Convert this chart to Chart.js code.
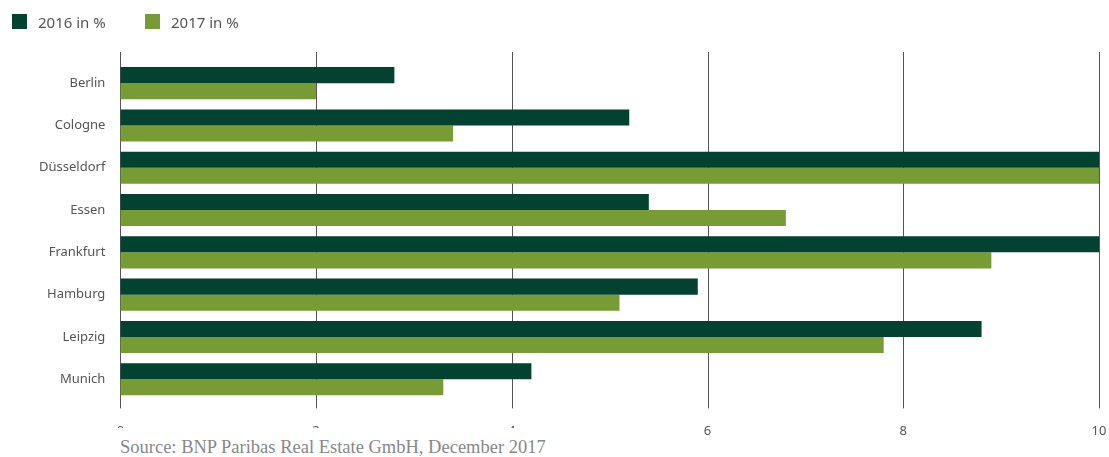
<!DOCTYPE html>
<html>
<head>
<meta charset="utf-8">
<script src="https://cdn.jsdelivr.net/npm/chart.js@4.4.0/dist/chart.umd.min.js"></script>
<style>
  html, body { margin: 0; padding: 0; background: #fff; }
  #wrap { position: relative; width: 1109px; height: 457px; }
  #wrap canvas { display: block; }
  #legend { position: absolute; left: 12px; top: 14px; font-family: "Noto Sans", sans-serif; font-size: 15px; color: #555; }
  #legend span.item { position: absolute; white-space: nowrap; line-height: 16px; }
  #legend span.box { display: inline-block; width: 15px; height: 15px; vertical-align: top; margin-right: 11px; }
  #source { position: absolute; left: 110px; top: 428px; width: 470px; height: 29px; background: #fff;
            font-family: "Liberation Serif", serif; font-size: 18.5px; color: #888; padding-left: 10px; line-height: 38px; box-sizing: border-box; white-space: nowrap; }
</style>
</head>
<body>
<div id="wrap">
  <canvas id="barChart" width="1109" height="457"></canvas>
  <div id="legend"></div>
  <div id="source">Source: BNP Paribas Real Estate GmbH, December 2017</div>
</div>
<script>
// data
var cities = ['Berlin', 'Cologne', 'Düsseldorf', 'Essen', 'Frankfurt', 'Hamburg', 'Leipzig', 'Munich'];
var values2016 = [2.8, 5.2, 10, 5.4, 10, 5.9, 8.8, 4.2];
var values2017 = [2.0, 3.4, 10, 6.8, 8.9, 5.1, 7.8, 3.3];
var seriesNames = ['2016 in %', '2017 in %'];
var seriesColors = ['#034230', '#779b35'];

// html legend
var legend = document.getElementById('legend');
var legendX = [0, 133];
for (var i = 0; i < seriesNames.length; i++) {
  legend.innerHTML += '<span class="item" style="left:' + legendX[i] + 'px"><span class="box" style="background:' +
    seriesColors[i] + '"></span>' + seriesNames[i] + '</span>';
}

// vertical grid lines, drawn a bit past the plot area like the original
var gridLines = {
  id: 'gridLines',
  beforeDatasetsDraw: function (chart) {
    var ctx = chart.ctx;
    var x = chart.scales.x;
    var area = chart.chartArea;
    ctx.save();
    ctx.strokeStyle = '#555';
    ctx.lineWidth = 1;
    x.ticks.forEach(function (t) {
      var px = Math.round(x.getPixelForValue(t.value)) + 0.5;
      ctx.beginPath();
      ctx.moveTo(px, area.top - 10);
      ctx.lineTo(px, area.bottom + 8);
      ctx.stroke();
    });
    ctx.restore();
  }
};

new Chart(document.getElementById('barChart'), {
  type: 'bar',
  data: {
    labels: cities,
    datasets: [{
      label: seriesNames[0],
      data: values2016,
      backgroundColor: seriesColors[0],
      categoryPercentage: 0.76,
      barPercentage: 1.0
    }, {
      label: seriesNames[1],
      data: values2017,
      backgroundColor: seriesColors[1],
      categoryPercentage: 0.76,
      barPercentage: 1.0
    }]
  },
  options: {
    indexAxis: 'y',
    responsive: false,
    animation: false,
    layout: { padding: { top: 62, left: 32, right: 10, bottom: 17 } },
    plugins: {
      legend: { display: false },
      tooltip: { enabled: false }
    },
    scales: {
      x: {
        min: 0,
        max: 10,
        ticks: { stepSize: 2, padding: 1, color: '#555', font: { family: 'Noto Sans', size: 13 } },
        grid: { display: false, tickLength: 22 },
        border: { display: false }
      },
      y: {
        ticks: { padding: 7, color: '#555', font: { family: 'Noto Sans', size: 13 } },
        grid: { display: false, tickLength: 8 },
        border: { display: false }
      }
    }
  },
  plugins: [gridLines]
});
</script>
</body>
</html>
